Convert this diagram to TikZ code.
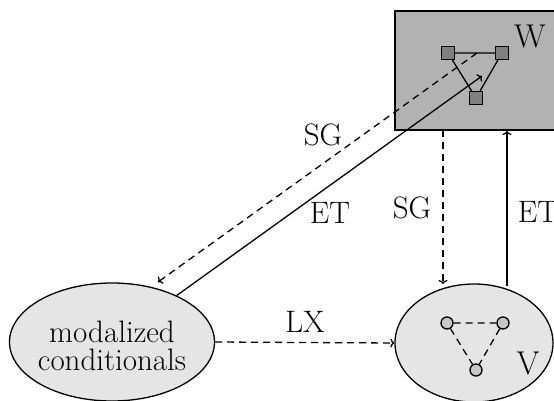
\documentclass[tikz,border=0pt]{standalone}
\usetikzlibrary{calc,shapes.geometric,arrows.meta}
\begin{document}
\begin{tikzpicture}[x=1pt,y=-1pt,
  lbl/.style={font=\fontsize{31}{28}\selectfont, inner sep=0pt},
  big/.style={font=\fontsize{33}{33}\selectfont, inner sep=0pt},
  ell/.style={ellipse, draw, line width=1.3pt, fill=black!10, inner sep=0pt},
  sq/.style={rectangle, draw, line width=1.3pt, fill=black!50, minimum size=13pt, inner sep=0pt},
  dot/.style={circle, draw, line width=1.3pt, fill=black!22, minimum size=12pt, inner sep=0pt},
  conn/.style={line width=1.3pt},
  dsh/.style={line width=1.3pt, dash pattern=on 7pt off 5pt},
  tip/.style={-{To[length=4pt,width=9pt]}}
]
\useasboundingbox (0,0) rectangle (554,401);
\clip (0,0) rectangle (554,401);
% W box
\node[rectangle, draw, line width=1.3pt, fill=black!30, minimum width=245pt, minimum height=119pt, inner sep=0pt] (W) at (517.5,70.5) {};
\node[big] (Wl) at (530,36) {W};
\node[sq] (s1) at (448,53) {};
\node[sq] (s2) at (502,53) {};
\node[sq] (s3) at (476,98) {};
\draw[conn] (s1) -- (s2) (s1) -- (s3) (s2) -- (s3);
% ellipses
\node[ell, minimum width=205pt, minimum height=118pt] (M) at (112,342) {};
\node[lbl, align=center] (Mt) at (112,346) {modalized\\conditionals};
\node[ell, minimum width=158pt, minimum height=118pt] (V) at (474,343) {};
\node[big] (Vl) at (528,363) {V};
\node[dot] (c1) at (447,323) {};
\node[dot] (c2) at (503,323) {};
\node[dot] (c3) at (476,370) {};
\draw[dsh] (c1) -- (c2) (c1) -- (c3) (c2) -- (c3);
% connectors
\coordinate (sgs) at (477,53);
\coordinate (sge) at (158,282);
\coordinate (ete) at (482,76);
\coordinate (vds) at (443,130);
\coordinate (vde) at (443,284);
\coordinate (ves) at (507,286);
\coordinate (vee) at (507,131);
\draw[dsh,tip] (sgs) -- (sge);
\draw[conn,tip] (M) -- (ete);
\draw[dsh,tip] (vds) -- (vde);
\draw[conn,tip] (ves) -- (vee);
\draw[dsh,tip] (M.east) -- (V.west);
% labels
\node[lbl] (l1) at (323,135) {SG};
\node[lbl] (l2) at (330,213) {ET};
\node[lbl] (l3) at (412,208) {SG};
\node[lbl] (l4) at (538,212) {ET};
\node[lbl] (l5) at (305,322) {LX};
\end{tikzpicture}
\end{document}
